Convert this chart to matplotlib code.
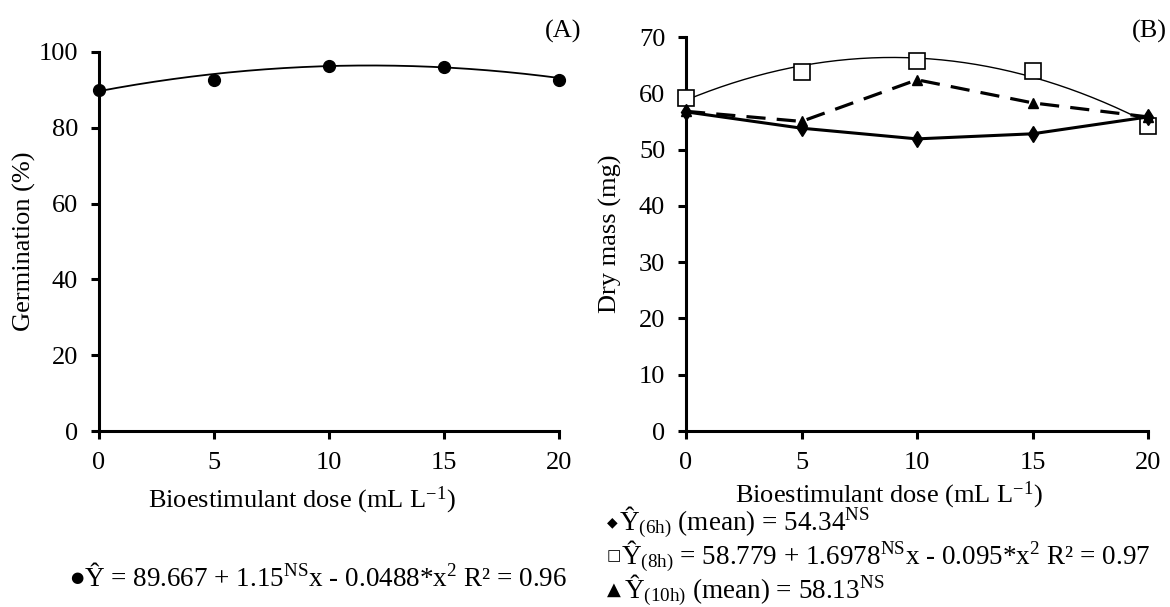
import matplotlib
matplotlib.use("Agg")
import matplotlib.pyplot as plt
import numpy as np

plt.rcParams['font.family'] = ['Liberation Serif', 'DejaVu Serif', 'DejaVu Sans']
plt.rcParams['mathtext.fontset'] = 'custom'
plt.rcParams['mathtext.rm'] = 'Liberation Serif'
plt.rcParams['mathtext.it'] = 'Liberation Serif:italic'
plt.rcParams['mathtext.bf'] = 'Liberation Serif:bold'

# ---- data ----
doses = [0, 5, 10, 15, 20]
germination = [89.9, 92.6, 96.4, 96.0, 92.6]
germ_coef = [89.667, 1.15, -0.0488]

dry_6h = [56.7, 53.8, 51.9, 52.8, 55.8]
dry_8h = [59.1, 63.8, 65.7, 63.9, 54.2]
dry_10h = [56.8, 55.0, 62.4, 58.3, 55.8]
dry8_coef = [58.779, 1.6978, -0.095]

xticks = [0, 5, 10, 15, 20]
yticks_a = [0, 20, 40, 60, 80, 100]
yticks_b = [0, 10, 20, 30, 40, 50, 60, 70]

FS = 19
FSE = 19.5
W, H = 1170, 607

fig = plt.figure(figsize=(W / 100, H / 100), dpi=100)
axA = fig.add_axes([99 / W, 1 - 431 / H, (559 - 99) / W, (431 - 52) / H])
axB = fig.add_axes([686 / W, 1 - 431 / H, (1148 - 686) / W, (431 - 37) / H])


def style(ax, yticks):
    for s in ['top', 'right']:
        ax.spines[s].set_visible(False)
    for s in ['left', 'bottom']:
        ax.spines[s].set_linewidth(2.2)
    ax.set_xlim(0, 20)
    ax.set_ylim(0, yticks[-1])
    ax.set_xticks(xticks)
    ax.set_yticks(yticks)
    ax.tick_params(width=2.2, length=6, labelsize=FS, direction='out')
    ax.tick_params(axis='x', pad=9)
    ax.tick_params(axis='y', pad=9)


xs = np.linspace(0, 20, 200)

# Panel A
style(axA, yticks_a)
axA.plot(xs, np.polyval(germ_coef[::-1], xs), color='black', lw=1.3)
axA.plot(doses, germination, 'o', color='black', ms=8.5, clip_on=False, zorder=5)
axA.set_ylabel('Germination (%)', fontsize=FS)
axA.set_xlabel('Bioestimulant dose (mL L$^{\\mathrm{-1}}$)', fontsize=FS)
axA.xaxis.set_label_coords(0.5 - 27 / 460, (431 - 500) / 379)
axA.xaxis.label.set_va('center')
axA.yaxis.set_label_coords((24 - 99) / 460, 0.5)
axA.yaxis.label.set_va('center')
fig.text(563 / W, 1 - 31 / H, '(A)', fontsize=FS, ha='center', va='center')

# Panel B
style(axB, yticks_b)
axB.plot(xs, np.polyval(dry8_coef[::-1], xs), color='black', lw=1.0, zorder=2)
axB.plot(doses, dry_8h, 's', mfc='white', mec='black', mew=1.2, ms=11, clip_on=False, zorder=3)
axB.plot(doses, dry_10h, '--', color='black', lw=2.3, dashes=(6, 3.5), zorder=4)
axB.plot(doses, dry_10h, '^', color='black', ms=7, clip_on=False, zorder=5)
axB.plot(doses, dry_6h, '-', color='black', lw=2.2, marker='d', ms=8, clip_on=False, zorder=6)
axB.set_ylabel('Dry mass (mg)', fontsize=FS)
axB.set_xlabel('Bioestimulant dose (mL L$^{\\mathrm{-1}}$)', fontsize=FS)
axB.xaxis.set_label_coords(0.5 - 28 / 462, (431 - 495) / 394)
axB.xaxis.label.set_va('center')
axB.yaxis.set_label_coords((610 - 686) / 462, 0.5)
axB.yaxis.label.set_va('center')
fig.text(1149 / W, 1 - 31 / H, '(B)', fontsize=FS, ha='center', va='center')


# Equations: symbol + text
def eq(xpx, ypx, sym, symsize, txt, gap=14):
    fig.text(xpx / W, 1 - ypx / H, sym, fontsize=symsize, ha='left', va='center',
             family='DejaVu Sans')
    fig.text((xpx + gap) / W, 1 - ypx / H, txt, fontsize=FSE, ha='left', va='center')


eq(70, 578, '\u25cf', 11,
   '\u0176 = 89.667 + 1.15$^{\\mathrm{NS}}$x - 0.0488*x$^{\\mathrm{2}}$ R\u00b2 = 0.96', gap=14)
eq(607, 522, '\u25c6', 10,
   '\u0176$_{\\mathrm{(6h)}}$ (mean) = 54.34$^{\\mathrm{NS}}$', gap=12)
eq(607, 556, '\u25a1', 11,
   '\u0176$_{\\mathrm{(8h)}}$ = 58.779 + 1.6978$^{\\mathrm{NS}}$x - 0.095*x$^{\\mathrm{2}}$ R\u00b2 = 0.97', gap=14)
eq(607, 590, '\u25b2', 13,
   '\u0176$_{\\mathrm{(10h)}}$ (mean) = 58.13$^{\\mathrm{NS}}$', gap=17)

fig.savefig('out.png', dpi=100)
